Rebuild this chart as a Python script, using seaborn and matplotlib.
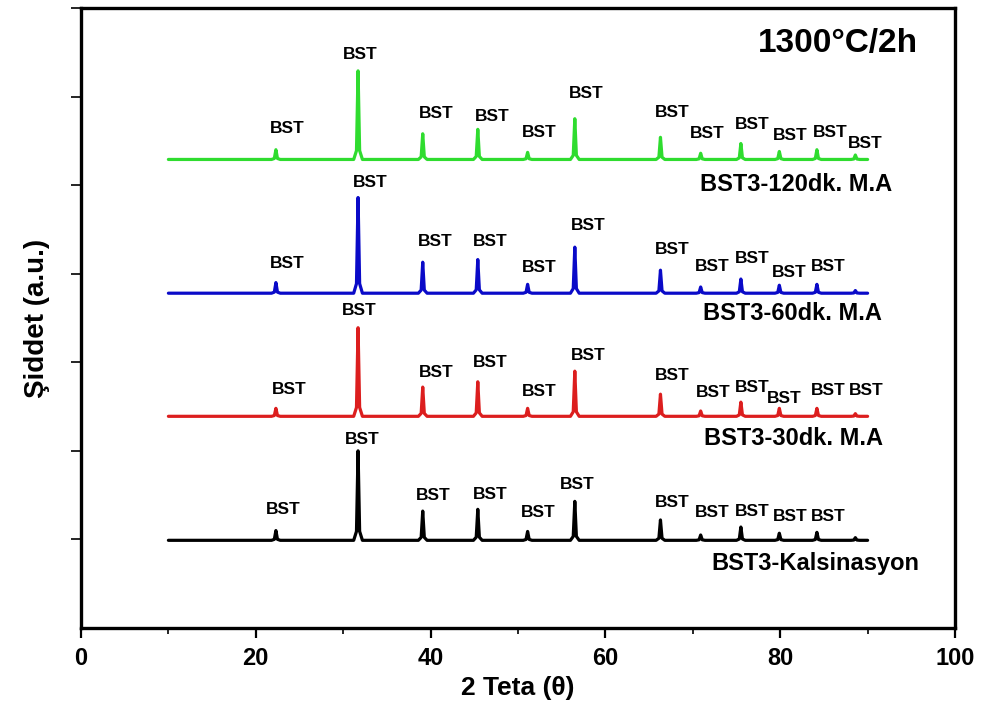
import numpy as np
import pandas as pd
import matplotlib
matplotlib.use("Agg")
import matplotlib.pyplot as plt
import seaborn as sns
from matplotlib.ticker import MultipleLocator

# ---------------- data ----------------
samples = ["BST3-120dk. M.A", "BST3-60dk. M.A", "BST3-30dk. M.A", "BST3-Kalsinasyon"]
colors = ["#2fdc2f", "#0a0ac8", "#dc1e1e", "#000000"]

peak_pos = [22.3, 31.7, 39.1, 45.4, 51.1, 56.5, 66.3, 70.9, 75.5, 79.9, 84.2, 88.6]

baseline_120 = 5.29
baseline_60 = 3.78
baseline_30 = 2.39
baseline_kal = 0.99

height_120 = [0.11, 1.00, 0.29, 0.34, 0.08, 0.46, 0.25, 0.07, 0.18, 0.09, 0.11, 0.05]
height_60 = [0.12, 1.08, 0.35, 0.38, 0.10, 0.52, 0.26, 0.07, 0.16, 0.09, 0.10, 0.03]
height_30 = [0.09, 1.00, 0.33, 0.39, 0.09, 0.51, 0.25, 0.06, 0.16, 0.09, 0.09, 0.03]
height_kal = [0.11, 1.01, 0.33, 0.35, 0.10, 0.44, 0.23, 0.06, 0.15, 0.08, 0.09, 0.03]

scan_start = 10.0
scan_end = 90.0

# "BST" annotations (x, y) per pattern
lbl_x_120 = [23.6, 32.0, 40.7, 47.0, 52.4, 57.8, 67.6, 71.6, 76.8, 81.1, 85.7, 89.7]
lbl_y_120 = [5.64, 6.47, 5.81, 5.78, 5.60, 6.03, 5.82, 5.58, 5.69, 5.56, 5.59, 5.47]
lbl_x_60 = [23.6, 33.1, 40.5, 46.8, 52.4, 58.0, 67.7, 72.2, 76.8, 81.0, 85.5]
lbl_y_60 = [4.11, 5.03, 4.36, 4.36, 4.07, 4.54, 4.27, 4.08, 4.17, 4.01, 4.08]
lbl_x_30 = [23.8, 31.8, 40.7, 46.8, 52.4, 58.0, 67.7, 72.3, 76.8, 80.5, 85.5, 89.9]
lbl_y_30 = [2.69, 3.59, 2.89, 3.00, 2.67, 3.08, 2.85, 2.66, 2.71, 2.59, 2.68, 2.68]
lbl_x_kal = [23.1, 32.2, 40.3, 46.8, 52.3, 56.8, 67.6, 72.2, 76.8, 81.1, 85.5]
lbl_y_kal = [1.34, 2.13, 1.50, 1.51, 1.30, 1.62, 1.42, 1.30, 1.32, 1.26, 1.26]

name_x = [81.8, 81.4, 81.5, 84.0]
name_y = [5.01, 3.55, 2.14, 0.73]

x_ticks = [0, 20, 40, 60, 80, 100]
title_text = "1300°C/2h"

# ---------------- build long table ----------------
# Each peak drawn as a narrow profile (shape template) around its read position/height
shape_dx = [-0.5, -0.18, 0.0, 0.18, 0.5]
shape_fr = [0.0, 0.10, 1.0, 0.10, 0.0]

def pattern(base, heights):
    xs = [scan_start]
    ys = [base]
    for p, h in zip(peak_pos, heights):
        for dx, fr in zip(shape_dx, shape_fr):
            xs.append(p + dx)
            ys.append(base + fr * h)
    xs.append(scan_end)
    ys.append(base)
    return xs, ys

rows = []
for name, base, hts in zip(samples,
                           [baseline_120, baseline_60, baseline_30, baseline_kal],
                           [height_120, height_60, height_30, height_kal]):
    xs, ys = pattern(base, hts)
    for a, b in zip(xs, ys):
        rows.append({"x": a, "y": b, "sample": name})
df = pd.DataFrame(rows)

# ---------------- plot ----------------
sns.set_style("ticks")
plt.rcParams["font.family"] = ["Liberation Sans", "DejaVu Sans"]
plt.rcParams["font.weight"] = "bold"
plt.rcParams["text.color"] = "black"
plt.rcParams["axes.labelcolor"] = "black"
plt.rcParams["xtick.color"] = "black"
plt.rcParams["ytick.color"] = "black"

fig = plt.figure(figsize=(9.81, 7.06), dpi=100)
ax = fig.add_axes([81 / 981, 78 / 706, 874 / 981, 620 / 706])

sns.lineplot(data=df, x="x", y="y", hue="sample", palette=dict(zip(samples, colors)),
             estimator=None, sort=False, linewidth=2.3, legend=False, ax=ax)

for lx, ly in [(lbl_x_120, lbl_y_120), (lbl_x_60, lbl_y_60),
               (lbl_x_30, lbl_y_30), (lbl_x_kal, lbl_y_kal)]:
    for a, b in zip(lx, ly):
        ax.text(a, b, "BST", ha="center", va="center", fontsize=12.5,
                fontweight="bold", color="black")

for nm, a, b in zip(samples, name_x, name_y):
    ax.text(a, b, nm, ha="center", va="center", fontsize=17, fontweight="bold", color="black")

ax.text(0.866, 0.942, title_text, transform=ax.transAxes, ha="center", va="center",
        fontsize=24, fontweight="bold", color="black")

ax.set_xlim(0, 100)
ax.set_ylim(0, 7)
ax.set_xticks(x_ticks)
ax.xaxis.set_minor_locator(MultipleLocator(10))
ax.set_yticks([1, 2, 3, 4, 5, 6, 7])
ax.set_yticklabels([])
ax.tick_params(axis="x", which="major", length=7, width=1.6, labelsize=17, pad=7,
               direction="out", colors="black")
ax.tick_params(axis="x", which="minor", length=4, width=1.2, direction="out", colors="black")
ax.tick_params(axis="y", which="major", length=7, width=1.2, direction="out", colors="black")
for lab in ax.get_xticklabels():
    lab.set_fontweight("bold")

for sp in ax.spines.values():
    sp.set_visible(True)
    sp.set_linewidth(2.4)
    sp.set_color("black")

ax.set_xlabel("2 Teta (θ)", fontsize=19, fontweight="bold", color="black")
ax.set_ylabel("Şiddet (a.u.)", fontsize=20, fontweight="bold", color="black")
ax.xaxis.set_label_coords(0.5, -0.077)
ax.yaxis.set_label_coords(-0.036, 0.5)

fig.savefig("out.png", dpi=100)
